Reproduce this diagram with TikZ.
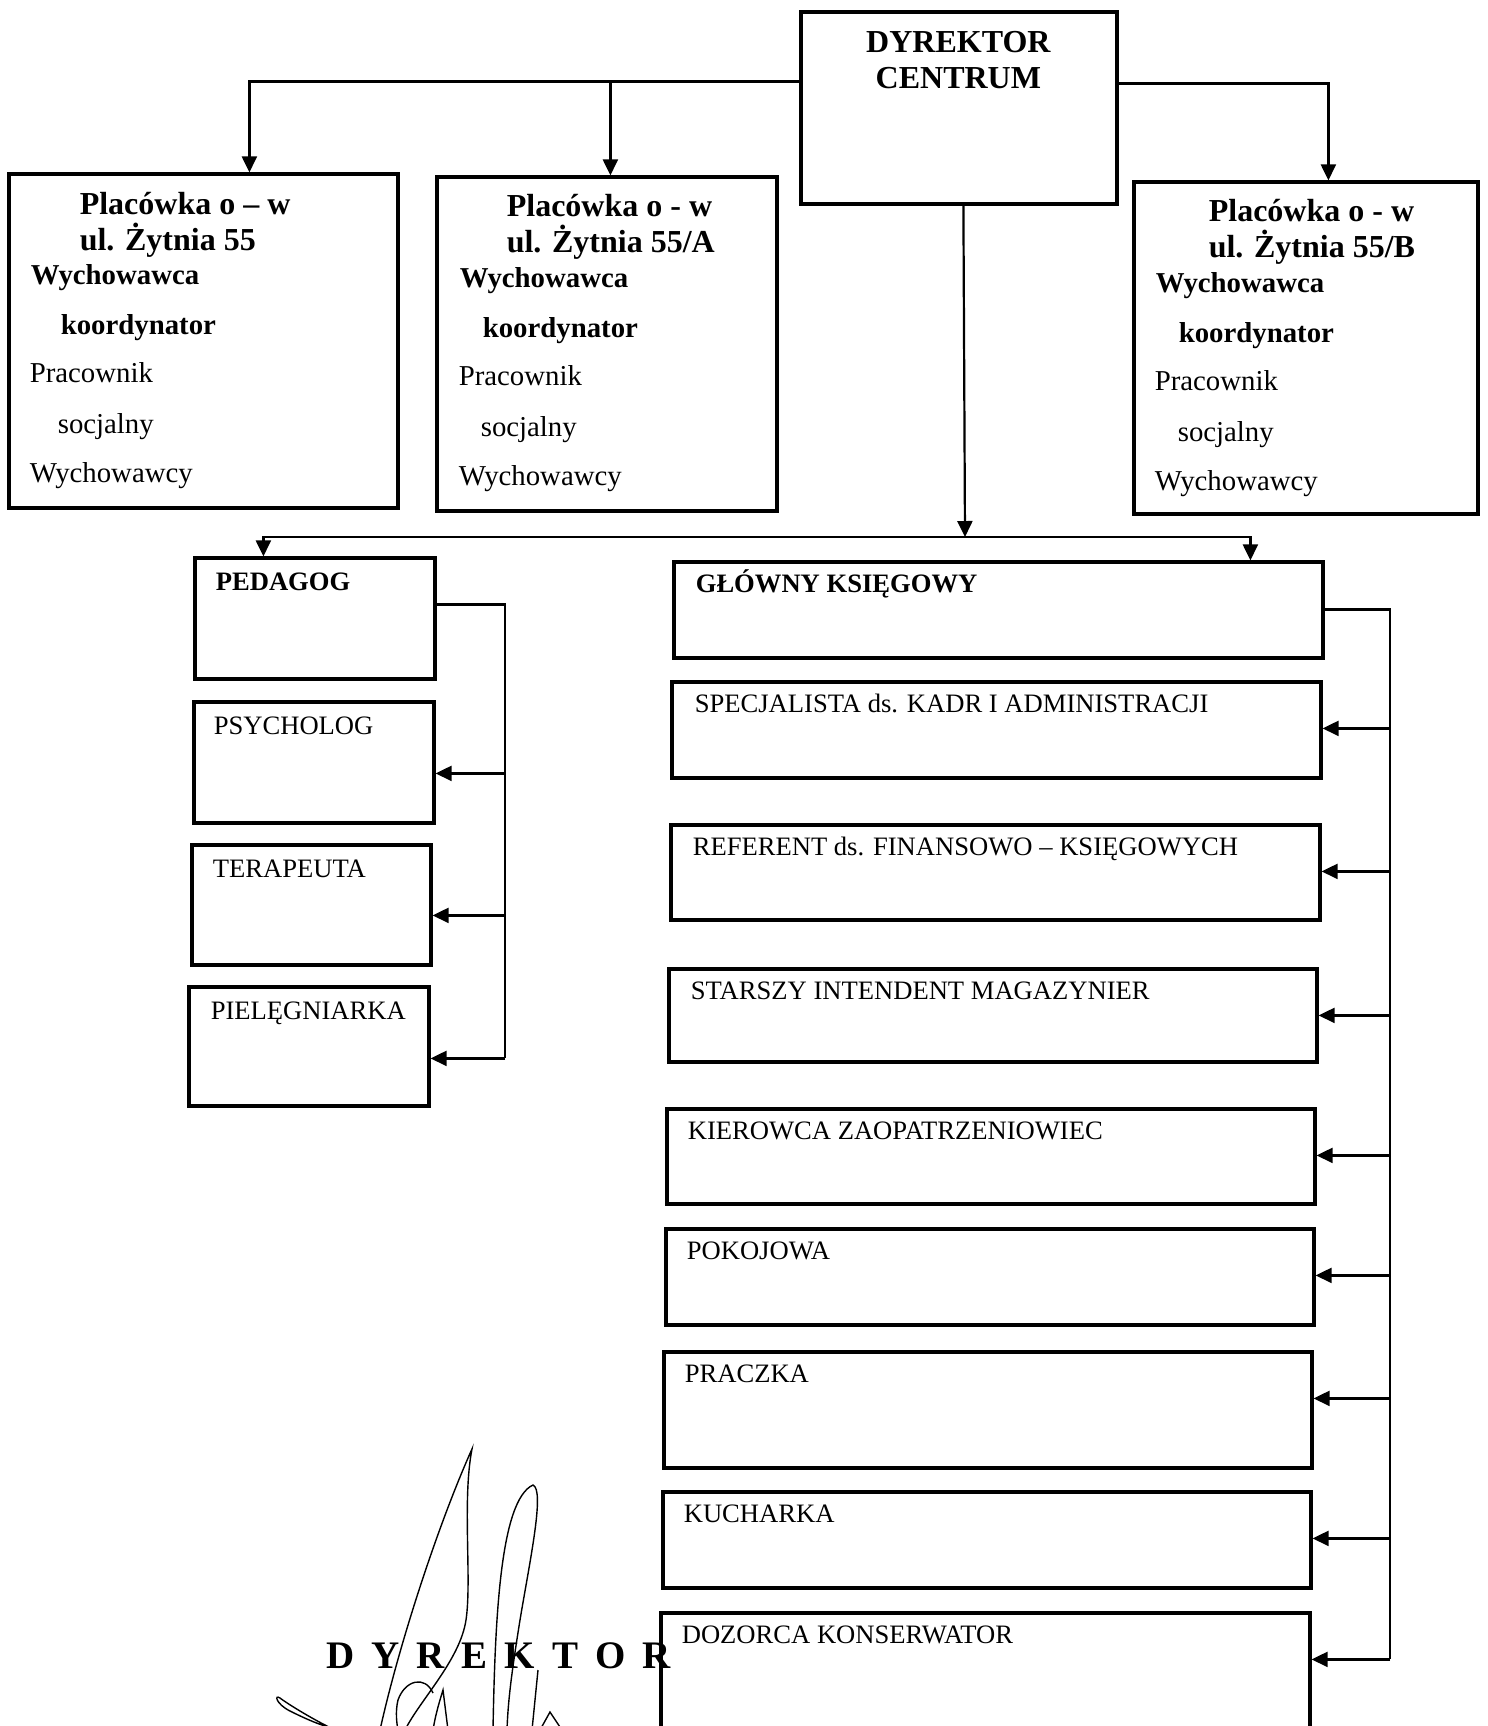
\documentclass[tikz,border=0pt]{standalone}
\usepackage{fontspec}
\setmainfont{Liberation Serif}
\usetikzlibrary{arrows.meta,fit}
\begin{document}
\begin{tikzpicture}[x=0.5pt,y=-0.5pt,
 box/.style={draw,line width=1.6pt,inner sep=0pt},
 conn/.style={line width=1.1pt},
 arr/.style={conn,-{Triangle[length=8pt,width=7.5pt]}},
 ttl/.style={font=\fontsize{16}{18}\selectfont\bfseries,anchor=base west,inner sep=0pt},
 bb/.style={font=\fontsize{14.4}{16}\selectfont\bfseries,anchor=base west,inner sep=0pt},
 rr/.style={font=\fontsize{14.4}{16}\selectfont,anchor=base west,inner sep=0pt},
 lb/.style={font=\fontsize{13.3}{15}\selectfont,anchor=base west,inner sep=0pt},
 lbb/.style={font=\fontsize{13.3}{15}\selectfont\bfseries,anchor=base west,inner sep=0pt},
 sig/.style={line width=0.7pt}]
\useasboundingbox (0,0) rectangle (1488,1726);
\clip (0,0) rectangle (1488,1726);
\fill[white] (0,0) rectangle (1488,1726);

% ---------- director ----------
\node[box,fit={(801,12)(1117,204)}] (dir) {};
\node[ttl,anchor=base] (dirt1) at ([shift={(159,42)}]dir.north west) {DYREKTOR};
\node[ttl,anchor=base] (dirt2) at ([shift={(159,78)}]dir.north west) {CENTRUM};

% ---------- placowki ----------
\node[box,fit={(9,174)(398,508)}] (p1) {};
\node[box,fit={(437,177)(777,511)}] (pA) {};
\node[box,fit={(1134,182)(1478,514)}] (pB) {};

\node[ttl] (p1a) at ([shift={(72,42)}]p1.north west) {Placówka o – w};
\node[ttl] (p1b) at ([shift={(72,78)}]p1.north west) {ul. Żytnia 55};
\node[bb] (p1c) at ([shift={(23,112)}]p1.north west) {Wychowawca};
\node[bb] (p1d) at ([shift={(53,162)}]p1.north west) {koordynator};
\node[rr] (p1e) at ([shift={(22,210)}]p1.north west) {Pracownik};
\node[rr] (p1f) at ([shift={(50,261)}]p1.north west) {socjalny};
\node[rr] (p1g) at ([shift={(22,310)}]p1.north west) {Wychowawcy};

\node[ttl] (pAa) at ([shift={(71,41)}]pA.north west) {Placówka o - w};
\node[ttl] (pAb) at ([shift={(71,77)}]pA.north west) {ul. Żytnia 55/A};
\node[bb] (pAc) at ([shift={(24,112)}]pA.north west) {Wychowawca};
\node[bb] (pAd) at ([shift={(47,162)}]pA.north west) {koordynator};
\node[rr] (pAe) at ([shift={(23,210)}]pA.north west) {Pracownik};
\node[rr] (pAf) at ([shift={(45,261)}]pA.north west) {socjalny};
\node[rr] (pAg) at ([shift={(23,310)}]pA.north west) {Wychowawcy};

\node[ttl] (pBa) at ([shift={(76,41)}]pB.north west) {Placówka o - w};
\node[ttl] (pBb) at ([shift={(76,77)}]pB.north west) {ul. Żytnia 55/B};
\node[bb] (pBc) at ([shift={(23,112)}]pB.north west) {Wychowawca};
\node[bb] (pBd) at ([shift={(46,162)}]pB.north west) {koordynator};
\node[rr] (pBe) at ([shift={(22,210)}]pB.north west) {Pracownik};
\node[rr] (pBf) at ([shift={(45,261)}]pB.north west) {socjalny};
\node[rr] (pBg) at ([shift={(22,310)}]pB.north west) {Wychowawcy};

% ---------- left column ----------
\node[box,fit={(195,558)(435,679)}] (ped) {};
\node[box,fit={(194,702)(434,823)}] (psy) {};
\node[box,fit={(192,845)(431,965)}] (ter) {};
\node[box,fit={(189,987)(429,1106)}] (pie) {};
\node[lbb] (pedt) at ([shift={(22,34)}]ped.north west) {PEDAGOG};
\node[lb] (psyt) at ([shift={(21,34)}]psy.north west) {PSYCHOLOG};
\node[lb] (tert) at ([shift={(22,34)}]ter.north west) {TERAPEUTA};
\node[lb] (piet) at ([shift={(23,34)}]pie.north west) {PIELĘGNIARKA};

% ---------- right column ----------
\node[box,fit={(674,562)(1323,658)}] (glk) {};
\node[box,fit={(672,682)(1321,778)}] (spe) {};
\node[box,fit={(671,825)(1320,920)}] (ref) {};
\node[box,fit={(669,969)(1317,1062)}] (sta) {};
\node[box,fit={(667,1109)(1315,1204)}] (kie) {};
\node[box,fit={(666,1229)(1314,1325)}] (pok) {};
\node[box,fit={(664,1352)(1312,1468)}] (pra) {};
\node[box,fit={(663,1492)(1311,1588)}] (kuc) {};
\node[box,fit={(661,1613)(1310,1770)}] (doz) {};
\node[lbb] (glkt) at ([shift={(23,32)}]glk.north west) {GŁÓWNY KSIĘGOWY};
\node[lb] (spet) at ([shift={(24,32)}]spe.north west) {SPECJALISTA ds. KADR I ADMINISTRACJI};
\node[lb] (reft) at ([shift={(23,32)}]ref.north west) {REFERENT ds. FINANSOWO – KSIĘGOWYCH};
\node[lb] (stat) at ([shift={(23,32)}]sta.north west) {STARSZY INTENDENT MAGAZYNIER};
\node[lb] (kiet) at ([shift={(22,32)}]kie.north west) {KIEROWCA ZAOPATRZENIOWIEC};
\node[lb] (pokt) at ([shift={(22,32)}]pok.north west) {POKOJOWA};
\node[lb] (prat) at ([shift={(22,32)}]pra.north west) {PRACZKA};
\node[lb] (kuct) at ([shift={(22,32)}]kuc.north west) {KUCHARKA};
\node[lb] (dozt) at ([shift={(22,32)}]doz.north west) {DOZORCA KONSERWATOR};

% ---------- connectors: director to placowki ----------
\coordinate (dL) at ([shift={(0,71)}]dir.north west);
\coordinate (dR) at ([shift={(0,73)}]dir.north east);
\coordinate (p1in) at ([shift={(242,0)}]p1.north west);
\coordinate (pAin) at ([shift={(175,0)}]pA.north west);
\coordinate (pBin) at ([shift={(196,0)}]pB.north west);
\draw[arr] (dL) -| (p1in);
\draw[arr] (dL -| pAin) -- (pAin);
\draw[arr] (dR) -| (pBin);

% ---------- director down to bus ----------
\coordinate (dB) at ([shift={(164,0)}]dir.south west);
\coordinate (bus) at (965,537);
\coordinate (pedin) at ([shift={(70,0)}]ped.north west);
\coordinate (glkin) at ([shift={(578,0)}]glk.north west);
\draw[arr] (dB) -- (bus);
\draw[arr] (bus) -| (pedin);
\draw[arr] (bus) -| (glkin);

% ---------- left feed ----------
\coordinate (psyin) at ([shift={(0,73)}]psy.north east);
\coordinate (terin) at ([shift={(0,72)}]ter.north east);
\coordinate (piein) at ([shift={(0,73)}]pie.north east);
\coordinate (lbot) at (505,0 |- piein);
\draw[conn] ([shift={(0,48)}]ped.north east) -| (lbot);
\draw[arr] (psyin -| lbot) -- (psyin);
\draw[arr] (terin -| lbot) -- (terin);
\draw[arr] (lbot) -- (piein);

% ---------- right feed ----------
\coordinate (dozin) at ([shift={(0,48)}]doz.north east);
\coordinate (rbot) at (1390,0 |- dozin);
\draw[conn] ([shift={(0,49)}]glk.north east) -| (rbot);
\foreach \n in {spe,ref,sta,kie,pok,pra,kuc,doz}{
  \coordinate (\n in) at ([shift={(0,48)}]\n.north east);
  \draw[arr] (\n in -| rbot) -- (\n in);
}

% ---------- signature block ----------
\node[font=\fontsize{19.5}{22}\selectfont\bfseries,anchor=base west,inner sep=0pt] (sigt) at (326,1668)
  {D\hspace{8.5pt}Y\hspace{8.5pt}R\hspace{8.5pt}E\hspace{8.5pt}K\hspace{8.5pt}T\hspace{8.5pt}O\hspace{8.5pt}R};
\draw[sig] (380,1730) .. controls (400,1640) and (440,1520) .. (472,1449)
  .. controls (462,1500) and (472,1580) .. (466,1620)
  .. controls (460,1660) and (420,1700) .. (405,1730);
\draw[sig] (493,1730) .. controls (495,1620) and (500,1500) .. (533,1485)
  .. controls (545,1490) and (530,1560) .. (520,1620)
  .. controls (512,1670) and (508,1700) .. (507,1730);
\draw[sig] (538,1670) -- (532,1730);
\draw[sig] (433,1693) .. controls (425,1675) and (405,1680) .. (398,1700)
  .. controls (395,1712) and (397,1725) .. (398,1730);
\draw[sig] (433,1730) .. controls (436,1712) and (440,1700) .. (443,1690) -- (448,1730);
\draw[sig] (540,1730) -- (550,1712) -- (562,1730);
\draw[sig] (335,1730) .. controls (310,1718) and (285,1702) .. (280,1698)
  .. controls (274,1694) and (276,1704) .. (290,1711)
  .. controls (310,1721) and (325,1727) .. (340,1730);
\end{tikzpicture}
\end{document}
